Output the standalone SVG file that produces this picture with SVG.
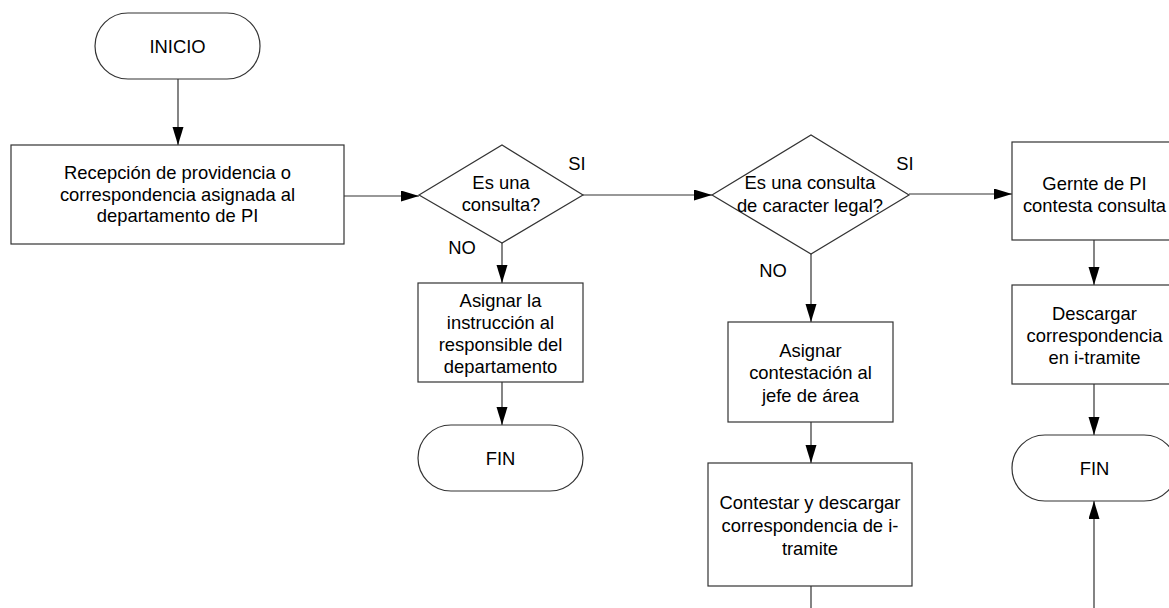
<svg xmlns="http://www.w3.org/2000/svg" width="1169" height="608" viewBox="0 0 1169 608">
<style>
.s{fill:#fff;stroke:#333;stroke-width:1.2}
.c{fill:none;stroke:#333;stroke-width:1.2}
text{font-family:"Liberation Sans",Arial,sans-serif;font-size:18.4px;fill:#000;text-anchor:middle}
</style>
<defs>
<marker id="ah" markerUnits="userSpaceOnUse" markerWidth="19" markerHeight="12" refX="18" refY="5.5" orient="auto">
<path d="M0,0 L18,5.5 L0,11 z" fill="#000"/>
</marker>
</defs>
<rect width="1169" height="608" fill="#fff"/>
<g id="connectors">
<path class="c" d="M178,79 V145" marker-end="url(#ah)"/>
<path class="c" d="M344,196 H419" marker-end="url(#ah)"/>
<path class="c" d="M583,195 H712" marker-end="url(#ah)"/>
<path class="c" d="M502,243 V283" marker-end="url(#ah)"/>
<path class="c" d="M502,382 V425" marker-end="url(#ah)"/>
<path class="c" d="M909,194 H1012" marker-end="url(#ah)"/>
<path class="c" d="M811,254 V322" marker-end="url(#ah)"/>
<path class="c" d="M811,422 V463" marker-end="url(#ah)"/>
<path class="c" d="M1094,240 V285" marker-end="url(#ah)"/>
<path class="c" d="M1094,384 V435" marker-end="url(#ah)"/>
<path class="c" d="M811,586 V640 H1094 V501" marker-end="url(#ah)"/>
<text x="577" y="169.5">SI</text>
<text x="462" y="253.5">NO</text>
<text x="905" y="169.5">SI</text>
<text x="773" y="276.5">NO</text>
</g>
<g id="inicio">
<rect class="s" x="95" y="13" width="165" height="66" rx="33" ry="33"/>
<text x="177.5" y="52.5">INICIO</text>
</g>
<g id="recepcion">
<rect class="s" x="11" y="145" width="333" height="99"/>
<text x="177.5" y="179">Recepción de providencia o</text>
<text x="177.5" y="200.5">correspondencia asignada al</text>
<text x="177.5" y="222">departamento de PI</text>
</g>
<g id="consulta">
<polygon class="s" points="419,195 502,145 583,195 502,243"/>
<text x="501" y="188.5">Es una</text>
<text x="501" y="211">consulta?</text>
</g>
<g id="asignar-instruccion">
<rect class="s" x="418" y="283" width="165" height="99"/>
<text x="500.5" y="306.5">Asignar la</text>
<text x="500.5" y="328.5">instrucción al</text>
<text x="500.5" y="350.5">responsible del</text>
<text x="500.5" y="372.5">departamento</text>
</g>
<g id="fin1">
<rect class="s" x="418" y="425" width="165" height="66" rx="33" ry="33"/>
<text x="500.5" y="464.5">FIN</text>
</g>
<g id="legal">
<polygon class="s" points="712,195 811,135 909,195 811,254"/>
<text x="810" y="189">Es una consulta</text>
<text x="810" y="211.5">de caracter legal?</text>
</g>
<g id="asignar-contestacion">
<rect class="s" x="728" y="322" width="165" height="100"/>
<text x="810.5" y="356.5">Asignar</text>
<text x="810.5" y="379">contestación al</text>
<text x="810.5" y="401.5">jefe de área</text>
</g>
<g id="contestar">
<rect class="s" x="708" y="463" width="204" height="123"/>
<text x="810" y="508.5">Contestar y descargar</text>
<text x="810" y="531.5">correspondencia de i-</text>
<text x="810" y="554.5">tramite</text>
</g>
<g id="gerente">
<rect class="s" x="1012" y="142" width="165" height="98"/>
<text x="1094.5" y="190">Gernte de PI</text>
<text x="1094.5" y="212">contesta consulta</text>
</g>
<g id="descargar">
<rect class="s" x="1012" y="285" width="165" height="99"/>
<text x="1094.5" y="319.5">Descargar</text>
<text x="1094.5" y="341.5">correspondencia</text>
<text x="1094.5" y="363.5">en i-tramite</text>
</g>
<g id="fin2">
<rect class="s" x="1012" y="435" width="165" height="66" rx="33" ry="33"/>
<text x="1094.5" y="474.5">FIN</text>
</g>
</svg>
